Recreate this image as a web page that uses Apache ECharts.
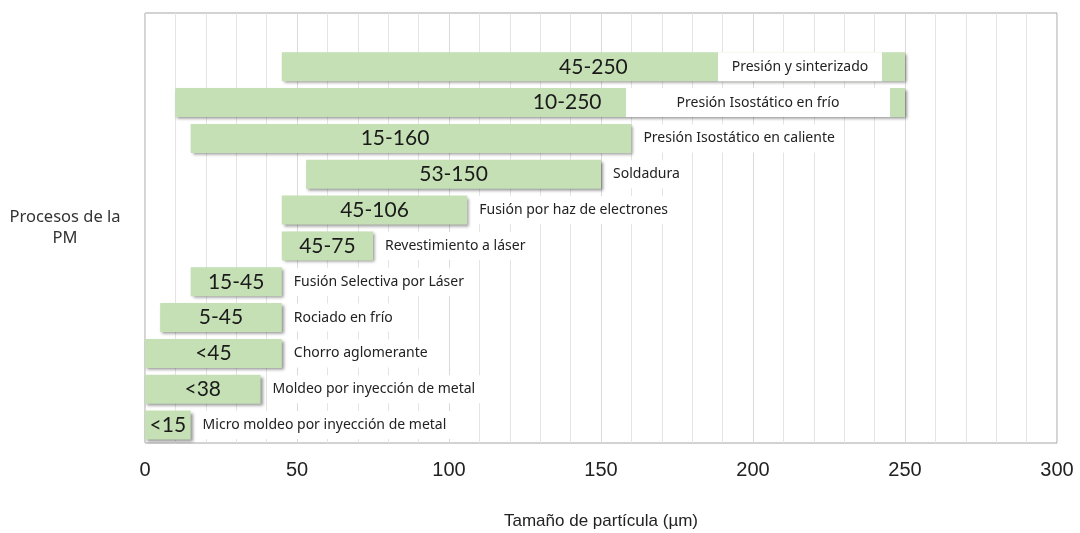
<!DOCTYPE html>
<html>
<head>
<meta charset="utf-8">
<script src="https://cdn.jsdelivr.net/npm/echarts@6/dist/echarts.min.js"></script>
<style>
  html, body { margin: 0; padding: 0; background: #ffffff; }
  #chart { width: 1080px; height: 533px; }
</style>
</head>
<body>
<div id="chart"></div>
<script>
// Powder-metallurgy processes, listed from the top row down
const processes = [
  'Presión y sinterizado',
  'Presión Isostático en frío',
  'Presión Isostático en caliente',
  'Soldadura',
  'Fusión por haz de electrones',
  'Revestimiento a láser',
  'Fusión Selectiva por Láser',
  'Rociado en frío',
  'Chorro aglomerante',
  'Moldeo por inyección de metal',
  'Micro moldeo por inyección de metal'
];
// Particle size range for each process (µm)
const sizeMin = [45, 10, 15, 53, 45, 45, 15, 5, 0, 0, 0];
const sizeMax = [250, 250, 160, 150, 106, 75, 45, 45, 45, 38, 15];
const rangeLabels = ['45-250', '10-250', '15-160', '53-150', '45-106', '45-75', '15-45', '5-45', '<45', '<38', '<15'];
// Particle size axis ticks
const xTicks = [0, 50, 100, 150, 200, 250, 300];

const n = processes.length;
// Category axis runs bottom-up; one empty band is kept above the first row
const yCategories = processes.slice().reverse().concat(['']);
const barData = processes.map((p, i) => [n - 1 - i, sizeMin[i], sizeMax[i], i]);

// Styling details for individual rows
const insideName = { 0: { gap: 23, width: 164 }, 1: { gap: 15, width: 264 } };
const rangeShift = { 1: 27, 2: -16 };
const nameGapRight = 12;

const rangeFont = { fontSize: 21, fontFamily: 'Lato, "Noto Sans", sans-serif' };
const nameFont = { fontSize: 14, fontFamily: '"Noto Sans", "DejaVu Sans", sans-serif' };

function renderBar(params, api) {
  const row = api.value(3);
  const yIdx = api.value(0);
  const a = api.coord([api.value(1), yIdx]);
  const b = api.coord([api.value(2), yIdx]);
  const bandH = api.size([0, 1])[1];
  const h = Math.round(bandH * 0.8);
  const top = a[1] - h / 2;
  const children = [];

  children.push({
    type: 'rect',
    shape: { x: a[0], y: top, width: b[0] - a[0], height: h },
    style: {
      fill: '#c5e0b4',
      shadowBlur: 3,
      shadowOffsetX: 2,
      shadowOffsetY: 2,
      shadowColor: 'rgba(0,0,0,0.42)'
    }
  });

  const inside = insideName[row];
  if (inside) {
    const bx = b[0] - inside.gap - inside.width;
    children.push({
      type: 'rect',
      shape: { x: bx, y: top, width: inside.width, height: h },
      style: { fill: '#ffffff' }
    });
    children.push({
      type: 'text',
      x: bx + inside.width / 2,
      y: a[1],
      style: Object.assign({
        text: processes[row], fill: '#222222', align: 'center', verticalAlign: 'middle'
      }, nameFont)
    });
  } else {
    children.push({
      type: 'text',
      x: b[0] + nameGapRight - 4,
      y: a[1],
      style: Object.assign({
        text: processes[row], fill: '#222222', align: 'left', verticalAlign: 'middle',
        backgroundColor: '#ffffff', padding: [7, 6, 7, 4]
      }, nameFont)
    });
  }

  children.push({
    type: 'text',
    x: (a[0] + b[0]) / 2 + (rangeShift[row] || 0),
    y: a[1],
    style: Object.assign({
      text: rangeLabels[row], fill: '#1a1a1a', align: 'center', verticalAlign: 'middle'
    }, rangeFont)
  });

  return { type: 'group', children: children };
}

const chart = echarts.init(document.getElementById('chart'));
chart.setOption({
  animation: false,
  backgroundColor: '#ffffff',
  grid: {
    left: 145, right: 23, top: 13, bottom: 90,
    outerBoundsMode: 'none',
    containLabel: false,
    show: true, borderColor: '#a6a6a6', borderWidth: 1, backgroundColor: '#ffffff'
  },
  xAxis: {
    type: 'value',
    min: xTicks[0],
    max: xTicks[xTicks.length - 1],
    interval: xTicks[1] - xTicks[0],
    axisLine: { show: false },
    axisTick: { show: false },
    axisLabel: {
      fontSize: 20, color: '#222222', margin: 17,
      fontFamily: '"Liberation Sans Narrow", "Liberation Sans", Arial, sans-serif'
    },
    splitLine: { show: true, lineStyle: { color: '#d9d9d9', width: 1 } },
    minorTick: { show: false, splitNumber: 5 },
    minorSplitLine: { show: true, lineStyle: { color: '#e4e4e4', width: 1 } },
    name: 'Tamaño de partícula (µm)',
    nameLocation: 'middle',
    nameGap: 70,
    nameTextStyle: {
      fontSize: 17, color: '#222222',
      fontFamily: '"Liberation Sans Narrow", "Liberation Sans", Arial, sans-serif'
    }
  },
  yAxis: {
    type: 'category',
    data: yCategories,
    axisLine: { show: false },
    axisTick: { show: false },
    axisLabel: { show: false },
    splitLine: { show: false },
    name: 'Procesos de la\nPM',
    nameLocation: 'middle',
    nameRotate: 0,
    nameGap: 80,
    nameTextStyle: {
      fontSize: 16.5, color: '#333333', align: 'center', lineHeight: 21,
      padding: [10, 0, 0, 0],
      fontFamily: '"Noto Sans", "DejaVu Sans", sans-serif'
    }
  },
  series: [{
    type: 'custom',
    renderItem: renderBar,
    encode: { x: [1, 2], y: 0 },
    data: barData,
    clip: false
  }]
});
</script>
</body>
</html>
